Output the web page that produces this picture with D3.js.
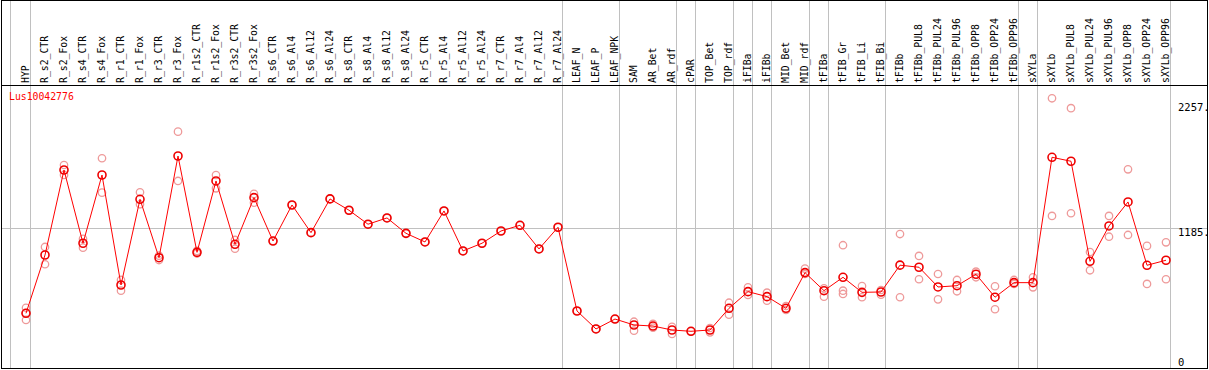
<!DOCTYPE html>
<html>
<head>
<meta charset="utf-8">
<script src="https://cdn.jsdelivr.net/npm/d3@7"></script>
<style>
  body { margin: 0; background: #fff; }
  svg { display: block; }
  text { font-family: "DejaVu Sans Mono", monospace; }
</style>
</head>
<body>
<svg id="chart" width="1209" height="370"></svg>
<script>
var gene = "Lus10042776";

var samples = ["HYP","R_s2_CTR","R_s2_Fox","R_s4_CTR","R_s4_Fox","R_r1_CTR","R_r1_Fox","R_r3_CTR","R_r3_Fox",
  "R_r1s2_CTR","R_r1s2_Fox","R_r3s2_CTR","R_r3s2_Fox","R_s6_CTR","R_s6_Al4","R_s6_Al12","R_s6_Al24",
  "R_s8_CTR","R_s8_Al4","R_s8_Al12","R_s8_Al24","R_r5_CTR","R_r5_Al4","R_r5_Al12","R_r5_Al24",
  "R_r7_CTR","R_r7_Al4","R_r7_Al12","R_r7_Al24","LEAF_N","LEAF_P","LEAF_NPK","SAM","AR_Bet","AR_rdf",
  "cPAR","TOP_Bet","TOP_rdf","iFIBa","iFIBb","MID_Bet","MID_rdf","tFIBa","tFIB_Gr","tFIB_Li","tFIB_Bi",
  "tFIBb","tFIBb_PUL8","tFIBb_PUL24","tFIBb_PUL96","tFIBb_OPP8","tFIBb_OPP24","tFIBb_OPP96","sXYLa",
  "sXYLb","sXYLb_PUL8","sXYLb_PUL24","sXYLb_PUL96","sXYLb_OPP8","sXYLb_OPP24","sXYLb_OPP96"];

// mean expression per sample
var means = [456,956,1685,1057,1642,699,1434,933,1805,
  979,1591,1048,1448,1076,1385,1148,1437,
  1340,1220,1274,1142,1068,1334,991,1057,
  1162,1211,1008,1194,476,322,407,356,347,313,
  302,313,499,642,599,499,805,650,765,636,639,
  869,851,682,693,791,594,719,719,
  1794,1760,902,1205,1411,868,911];

// individual replicates (pale circles)
var reps = [[504,399,458],[1025,877],[1728,1643],[1094,1019],[1786,1491],[742,650],[1494,1391],[950,913],[2014,1591],
  [991,969],[1642,1528],[1085,1010],[1480,1405],[1076],[1385],[1148],[1437],
  [1340],[1220],[1274],[1142],[1068],[1334],[991],[1057],
  [1162],[1211],[1008],[1194],[476],[322],[407],[384,307],[365,333],[341,279],
  [302],[293,330],[547,444],[679,613],[633,564],[519,485],[839,793],[671,599],[1040,650,622],[690,594],[656,616],
  [1136,594],[948,748],[793,576],[742,645],[813,765],[688,491],[742,708],[765,679],
  [2300,1291],[2215,1314],[982,825],[1291,1113],[1691,1128],[1034,708],[1065,748]];

// last sample of each group (grey separators)
var groupEnds = ["HYP","R_r7_Al24","LEAF_NPK","AR_rdf","cPAR","TOP_rdf","iFIBa","iFIBb","MID_rdf",
  "tFIBa","tFIB_Bi","tFIBb_OPP96","sXYLa","sXYLb_OPP96"];

var yTicks = [0, 1185, 2257];
var yTickLabels = ["0", "1185.", "2257."];

var W = 1209, H = 370;
var svg = d3.select("#chart");

var x = d3.scalePoint().domain(samples).range([26, 1166]);
var y = d3.scaleLinear().domain([0, 2257]).range([366.5, 103.3]);
var half = x.step() / 2;

// grey grid
var grid = svg.append("g").attr("stroke", "#c0c0c0").attr("stroke-width", 1);
grid.selectAll("line.v")
  .data(groupEnds)
  .join("line")
  .attr("x1", function(d) { return x(d) + 4.5; })
  .attr("x2", function(d) { return x(d) + 4.5; })
  .attr("y1", 0).attr("y2", 368);
grid.append("line")
  .attr("x1", x(samples[0]) - half - 6).attr("x2", x(samples[0]) - half - 6)
  .attr("y1", 0).attr("y2", 368);
grid.append("line")
  .attr("x1", 1).attr("x2", 1207)
  .attr("y1", Math.round(y(1185)) + 0.5).attr("y2", Math.round(y(1185)) + 0.5);

// frame
svg.append("rect")
  .attr("x", 1.5).attr("y", 0.5).attr("width", 1206).attr("height", 368)
  .attr("fill", "none").attr("stroke", "#000");
svg.append("line")
  .attr("x1", 1).attr("x2", 1208).attr("y1", 85.5).attr("y2", 85.5)
  .attr("stroke", "#000");

// rotated sample labels
svg.append("g").selectAll("text")
  .data(samples)
  .join("text")
  .attr("transform", function(d) { return "translate(" + (x(d) + 3) + ",83) rotate(-90) scale(0.89,1)"; })
  .attr("font-size", 11)
  .attr("fill", "#000")
  .text(function(d) { return d; });

// gene name
svg.append("text")
  .attr("x", 9).attr("y", 100)
  .attr("font-size", 11)
  .attr("transform", "translate(9,0) scale(0.89,1) translate(-9,0)")
  .attr("fill", "#f00")
  .text(gene);

// right axis labels
svg.append("g").selectAll("text")
  .data(yTicks)
  .join("text")
  .attr("x", 1178)
  .attr("y", function(d) { return Math.min(y(d) + 8, 366); })
  .attr("font-size", 10.5)
  .attr("fill", "#000")
  .text(function(d, i) { return yTickLabels[i]; });

// replicate circles
var repPts = [];
samples.forEach(function(s, i) {
  reps[i].forEach(function(v) { repPts.push({s: s, v: v}); });
});
svg.append("g").selectAll("circle")
  .data(repPts)
  .join("circle")
  .attr("cx", function(d) { return x(d.s); })
  .attr("cy", function(d) { return y(d.v); })
  .attr("r", 3.7)
  .attr("fill", "none")
  .attr("stroke", "#ee9a9a")
  .attr("stroke-width", 1.3);

// mean line
var line = d3.line()
  .x(function(d, i) { return x(samples[i]); })
  .y(function(d) { return y(d); });
svg.append("path")
  .datum(means)
  .attr("d", line)
  .attr("fill", "none")
  .attr("stroke", "#f00")
  .attr("stroke-width", 1);

// mean circles
svg.append("g").selectAll("circle")
  .data(means)
  .join("circle")
  .attr("cx", function(d, i) { return x(samples[i]); })
  .attr("cy", function(d) { return y(d); })
  .attr("r", 4)
  .attr("fill", "none")
  .attr("stroke", "#e00")
  .attr("stroke-width", 1.6);
</script>
</body>
</html>
